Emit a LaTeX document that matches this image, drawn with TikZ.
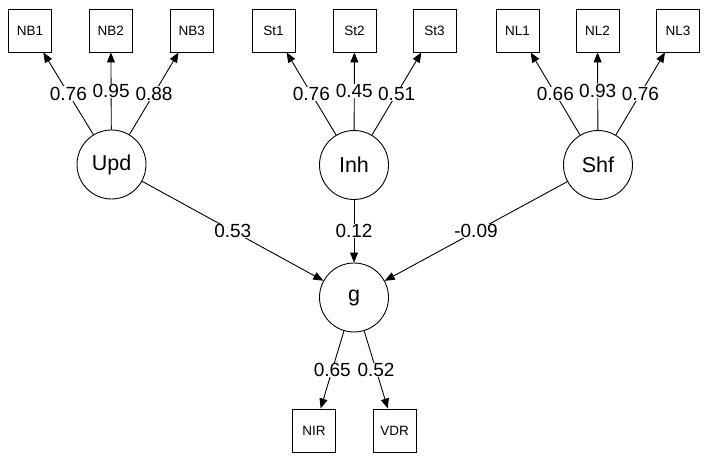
\documentclass[tikz,border=0pt]{standalone}
\usepackage{fontspec}
\setmainfont{Liberation Sans}
\usetikzlibrary{arrows.meta}
\begin{document}
\begin{tikzpicture}[x=1pt,y=-1pt,
  manifest/.style={draw,line width=0.9pt,minimum size=43pt,inner sep=0pt,font=\fontsize{13.5}{14}\selectfont},
  latent/.style={draw,circle,line width=0.9pt,minimum size=69pt,inner sep=0pt,font=\fontsize{21.5}{22}\selectfont},
  path/.style={line width=0.9pt,-{Triangle[length=10pt,width=8pt]}},
  wt/.style={fill=white,inner sep=0.5pt,font=\fontsize{19}{19}\selectfont,pos=0.5}]
\useasboundingbox (0,0) rectangle (710,465);
% manifest variables
\node[manifest] (NB1) at (30,30.5) {NB1};
\node[manifest] (NB2) at (110.8,30.5) {NB2};
\node[manifest] (NB3) at (191.7,30.5) {NB3};
\node[manifest] (St1) at (273.5,30.5) {St1};
\node[manifest] (St2) at (354.5,30.5) {St2};
\node[manifest] (St3) at (434.5,30.5) {St3};
\node[manifest] (NL1) at (517.5,30.5) {NL1};
\node[manifest] (NL2) at (597.5,30.5) {NL2};
\node[manifest] (NL3) at (678,30.5) {NL3};
\node[manifest] (NIR) at (314,430.5) {NIR};
\node[manifest] (VDR) at (394.5,430.5) {VDR};
% latent variables
\node[latent] (Upd) at (111.5,164.5) {Upd};
\node[latent] (Inh) at (354,165) {Inh};
\node[latent] (Shf) at (598,165) {Shf};
\node[latent] (g) at (354,297.5) {g};
% loadings
\draw[path] (Upd) -- node[wt] {0.76} (NB1);
\draw[path] (Upd) -- node[wt] {0.95} (NB2);
\draw[path] (Upd) -- node[wt] {0.88} (NB3);
\draw[path] (Inh) -- node[wt] {0.76} (St1);
\draw[path] (Inh) -- node[wt] {0.45} (St2);
\draw[path] (Inh) -- node[wt] {0.51} (St3);
\draw[path] (Shf) -- node[wt] {0.66} (NL1);
\draw[path] (Shf) -- node[wt] {0.93} (NL2);
\draw[path] (Shf) -- node[wt] {0.76} (NL3);
% structural paths
\draw[path] (Upd) -- node[wt] {0.53} (g);
\draw[path] (Inh) -- node[wt] {0.12} (g);
\draw[path] (Shf) -- node[wt] {-0.09} (g);
\draw[path] (g) -- node[wt] {0.65} (NIR);
\draw[path] (g) -- node[wt] {0.52} (VDR);
\end{tikzpicture}
\end{document}
